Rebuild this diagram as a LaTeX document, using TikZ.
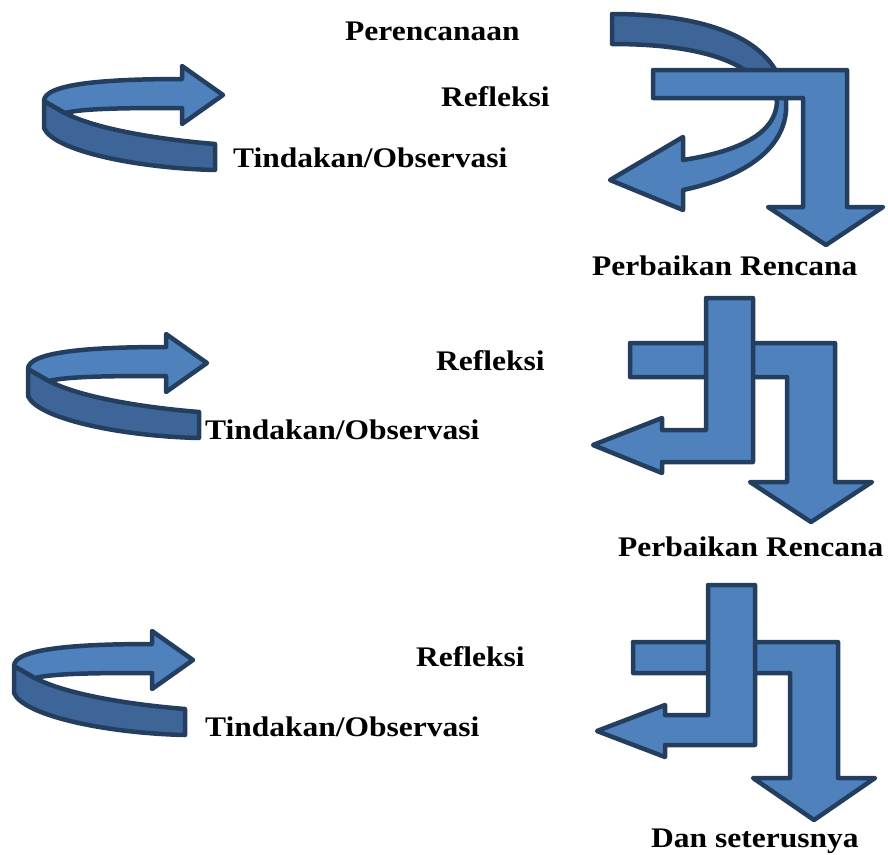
\documentclass[tikz,border=0pt]{standalone}
\usepackage{fontspec}
\setmainfont{Liberation Serif}
\definecolor{fillL}{RGB}{79,129,189}
\definecolor{fillD}{RGB}{62,101,152}
\definecolor{edge}{RGB}{36,62,96}
\tikzset{
  shp/.style={draw=edge, line width=4.5pt, line join=round, fill=fillL},
  shpd/.style={shp, fill=fillD},
  lbl/.style={anchor=base west, inner sep=0pt, font=\fontsize{31.5}{36}\selectfont\bfseries},
}
\newcommand{\ringarrow}[2]{%
  \begin{scope}[shift={(#1,#2)}]
    \path[shpd] (-179,5) -- (-179,32) .. controls (-170,54) and (-90,72) .. (-8,74)
      -- (-8,48) .. controls (-70,43) and (-130,32) .. (-158,17) -- cycle;
    \path[shp] (-41,-17) -- (-41,-30) -- (0,-1) -- (-41,28) -- (-41,12)
      .. controls (-90,12) and (-138,12) .. (-158,17) -- (-179,5)
      .. controls (-179,-12) and (-120,-17) .. (-41,-17) -- cycle;
  \end{scope}}
\begin{document}
\begin{tikzpicture}[x=1pt,y=-1pt]
\path[use as bounding box] (0,0) rectangle (888,854);
% ---- block 1 ----
\ringarrow{223}{96}
\path[shpd] (612,14) .. controls (705,14) and (768,38) .. (782,85) -- (762,85)
  .. controls (740,58) and (690,44) .. (612,44) -- cycle;
\path[shp] (782,85) -- (786,100) .. controls (790,150) and (740,178) .. (683,190)
  -- (683,210) -- (610,180) -- (683,137) -- (683,160)
  .. controls (735,152) and (777,135) .. (777,100) -- (762,85) -- cycle;
\path[shp] (653,70) -- (847,70) -- (847,207) -- (883,207) -- (826,245) -- (768,207)
  -- (803,207) -- (803,98) -- (653,98) -- cycle;
% ---- block 2 ----
\ringarrow{207}{364}
\path[shp] (630,343) -- (835,343) -- (835,482) -- (872,482) -- (811,522) -- (750,482)
  -- (787,482) -- (787,377) -- (630,377) -- cycle;
\path[shp] (706,298) -- (753,298) -- (753,462) -- (662,462) -- (662,473) -- (593,445)
  -- (662,418) -- (662,430) -- (706,430) -- cycle;
% ---- block 3 ----
\ringarrow{193}{661}
\path[shp] (633,642) -- (838,642) -- (838,778) -- (875,778) -- (814,820) -- (753,778)
  -- (790,778) -- (790,673) -- (633,673) -- cycle;
\path[shp] (708,585) -- (755,585) -- (755,745) -- (665,745) -- (665,757) -- (597,731)
  -- (665,705) -- (665,715) -- (708,715) -- cycle;
% ---- labels ----
\node[lbl] (plan)  at (345,40)  {\scalebox{1}[0.9]{Perencanaan}};
\node[lbl] (ref1)  at (441,106) {\scalebox{1}[0.9]{Refleksi}};
\node[lbl] (act1)  at (233,167) {\scalebox{1}[0.9]{Tindakan/Observasi}};
\node[lbl] (rev1)  at (592,275) {\scalebox{1}[0.9]{Perbaikan Rencana}};
\node[lbl] (ref2)  at (436,370) {\scalebox{1}[0.9]{Refleksi}};
\node[lbl] (act2)  at (205,439) {\scalebox{1}[0.9]{Tindakan/Observasi}};
\node[lbl] (rev2)  at (618,556) {\scalebox{1}[0.9]{Perbaikan Rencana}};
\node[lbl] (ref3)  at (416,666) {\scalebox{1}[0.9]{Refleksi}};
\node[lbl] (act3)  at (205,736) {\scalebox{1}[0.9]{Tindakan/Observasi}};
\node[lbl] (etc)   at (651,847) {\scalebox{1}[0.9]{Dan seterusnya}};
\end{tikzpicture}
\end{document}
